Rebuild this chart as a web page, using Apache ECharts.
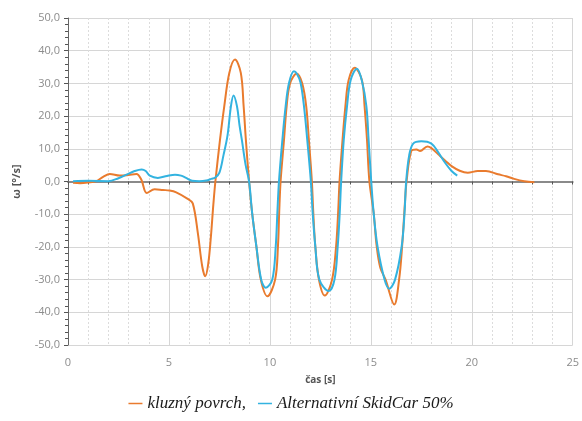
<!doctype html>
<html>
<head>
<meta charset="UTF-8">
<title>ω – čas</title>
<script src="https://cdn.jsdelivr.net/npm/echarts@6/dist/echarts.min.js"></script>
<style>
  html, body { margin: 0; padding: 0; background: #fff; }
  #main { width: 582px; height: 421px; }
</style>
</head>
<body>
<div id="main"></div>
<script>
// data: [t (s), omega (deg/s)]
var kluzny = [
  [0.25,-0.4],[0.6,-0.5],[1.0,-0.3],[1.4,0.1],[1.74,1.4],[2.07,2.3],[2.56,1.8],[3.0,2.0],[3.39,2.3],
  [3.63,0.6],[3.9,-3.5],[4.29,-2.4],[4.7,-2.6],[5.03,-2.75],[5.36,-3.3],[5.93,-5.3],[6.18,-6.7],
  [6.43,-15.7],[6.65,-26],[6.8,-29],[6.95,-25],[7.08,-16.7],[7.2,-7],[7.3,0],[7.53,12.8],[7.74,23],
  [7.99,33.2],[8.27,37.3],[8.56,33.2],[8.7,23],[8.81,12.8],[8.97,0],[9.12,-9.6],[9.33,-19.8],
  [9.55,-30],[9.88,-35.1],[10.26,-30],[10.4,-19.8],[10.46,-9.6],[10.53,0],[10.7,12.8],[10.83,23],
  [11.0,30],[11.33,33.0],[11.6,30],[11.8,23],[11.93,12.8],[12.08,0],[12.15,-9.6],[12.25,-19.8],
  [12.43,-30],[12.72,-34.9],[13.08,-30],[13.28,-19.8],[13.38,-9.6],[13.45,0],[13.6,12.8],[13.74,23],
  [13.9,31],[14.2,34.8],[14.56,31],[14.69,23],[14.81,12.8],[14.93,0],[15.14,-9.6],[15.29,-19.8],
  [15.47,-26.4],[15.73,-30],[16.16,-37.6],[16.4,-30],[16.55,-19.8],[16.7,-5.5],[16.77,0],[17.0,9.3],
  [17.26,9.8],[17.44,9.3],[17.8,10.7],[18.0,10.2],[18.34,8.3],[18.7,6.3],[19.0,4.7],[19.4,3.3],
  [19.8,2.7],[20.3,3.2],[20.7,3.2],[21.3,2.2],[21.7,1.6],[22.1,0.8],[22.6,0.1],[23.1,-0.2]
];
var skidcar = [
  [0.25,0.1],[1.0,0.2],[2.0,0.1],[2.5,1.0],[2.9,2.1],[3.3,3.2],[3.65,3.7],[3.85,3.2],[4.05,1.8],
  [4.45,1.1],[4.9,1.7],[5.3,2.1],[5.6,1.8],[5.85,1.1],[6.15,0.2],[6.5,0.1],[6.85,0.3],[7.1,0.8],
  [7.3,1.2],[7.5,2.7],[7.7,8],[7.9,14],[8.07,23],[8.2,26.3],[8.37,23],[8.5,17],[8.61,12.8],[8.8,5],
  [8.97,0],[9.12,-9.6],[9.33,-19.8],[9.57,-30],[9.8,-32.5],[10.12,-30],[10.29,-19.8],[10.37,-9.6],
  [10.45,0],[10.62,12.8],[10.78,23],[10.95,30.2],[11.19,33.7],[11.35,32.8],[11.52,30.2],[11.69,23],
  [11.85,12.8],[12.03,0],[12.12,-9.6],[12.25,-19.8],[12.45,-30],[12.92,-33.5],[13.2,-30],[13.36,-19.8],
  [13.46,-9.6],[13.53,0],[13.66,12.8],[13.82,23],[14.0,31],[14.31,34.5],[14.55,31],[14.78,23],
  [14.89,12.8],[15.02,0],[15.14,-9.6],[15.33,-19.8],[15.68,-30],[15.91,-32.8],[16.2,-30],[16.53,-19.8],
  [16.67,-9.6],[16.75,0],[16.9,8],[17.1,11.6],[17.5,12.3],[18.0,11.6],[18.34,8.9],[18.67,5.8],
  [19.0,3.2],[19.28,1.8]
];
var seriesNames = ['kluzný povrch,', 'Alternativní SkidCar 50%'];
var xTicks = [0, 5, 10, 15, 20, 25];
var yTicks = [-50, -40, -30, -20, -10, 0, 10, 20, 30, 40, 50];

var chart = echarts.init(document.getElementById('main'));
var labelFont = 'Open Sans, Noto Sans, sans-serif';

var option = {
  animation: false,
  grid: { left: 68, right: 7, top: 18, bottom: 76 },
  legend: {
    data: seriesNames,
    bottom: 4,
    left: 'center',
    icon: 'rect',
    itemWidth: 14,
    itemHeight: 1.5,
    itemGap: 12,
    textStyle: {
      fontFamily: 'Liberation Serif',
      fontStyle: 'italic',
      fontSize: 17,
      color: '#1a1a1a'
    }
  },
  xAxis: [{
    type: 'value',
    position: 'bottom',
    min: xTicks[0],
    max: xTicks[xTicks.length - 1],
    interval: 5,
    name: 'čas [s]',
    nameLocation: 'middle',
    nameGap: 30,
    nameTextStyle: { fontFamily: labelFont, fontSize: 10, fontWeight: 'bold', color: '#555' },
    axisLine: { show: false, onZero: false },
    axisTick: { show: false },
    axisLabel: { fontFamily: labelFont, fontSize: 11, color: '#8c8c8c', margin: 12 },
    splitLine: { show: true, lineStyle: { color: '#d6d6d6', width: 1 } },
    minorTick: { show: false, splitNumber: 5 },
    minorSplitLine: { show: true, lineStyle: { color: '#dcdcdc', width: 1, type: [2, 2] } }
  }, {
    type: 'value',
    position: 'bottom',
    min: xTicks[0],
    max: xTicks[xTicks.length - 1],
    interval: 1,
    axisLine: { show: true, onZero: true, lineStyle: { color: '#8a8a8a', width: 2 } },
    axisTick: { show: true, length: 3, lineStyle: { color: '#555', width: 1 } },
    axisLabel: { show: false },
    splitLine: { show: false }
  }],
  yAxis: {
    type: 'value',
    min: yTicks[0],
    max: yTicks[yTicks.length - 1],
    interval: 10,
    name: 'ω [°/s]',
    nameLocation: 'middle',
    nameGap: 46,
    nameTextStyle: { fontFamily: labelFont, fontSize: 11, fontWeight: 'bold', color: '#555' },
    axisLine: { show: true, lineStyle: { color: '#666', width: 1 } },
    axisTick: { show: true, length: 4, lineStyle: { color: '#555' } },
    minorTick: { show: true, splitNumber: 5, length: 3, lineStyle: { color: '#555' } },
    axisLabel: {
      fontFamily: labelFont, fontSize: 11, color: '#8c8c8c', margin: 8,
      formatter: function (v) { return v.toFixed(1).replace('.', ','); }
    },
    splitLine: { show: true, lineStyle: { color: '#d6d6d6', width: 1 } }
  },
  series: [{
    name: seriesNames[0],
    type: 'line',
    xAxisIndex: 0,
    data: kluzny,
    smooth: 0.35,
    showSymbol: false,
    color: '#E97B2E',
    lineStyle: { width: 2, color: '#E97B2E' },
    z: 3
  }, {
    name: seriesNames[1],
    type: 'line',
    xAxisIndex: 0,
    data: skidcar,
    smooth: 0.35,
    showSymbol: false,
    color: '#33B3E0',
    lineStyle: { width: 2, color: '#33B3E0' },
    z: 4
  }]
};

chart.setOption(option);
</script>
</body>
</html>
